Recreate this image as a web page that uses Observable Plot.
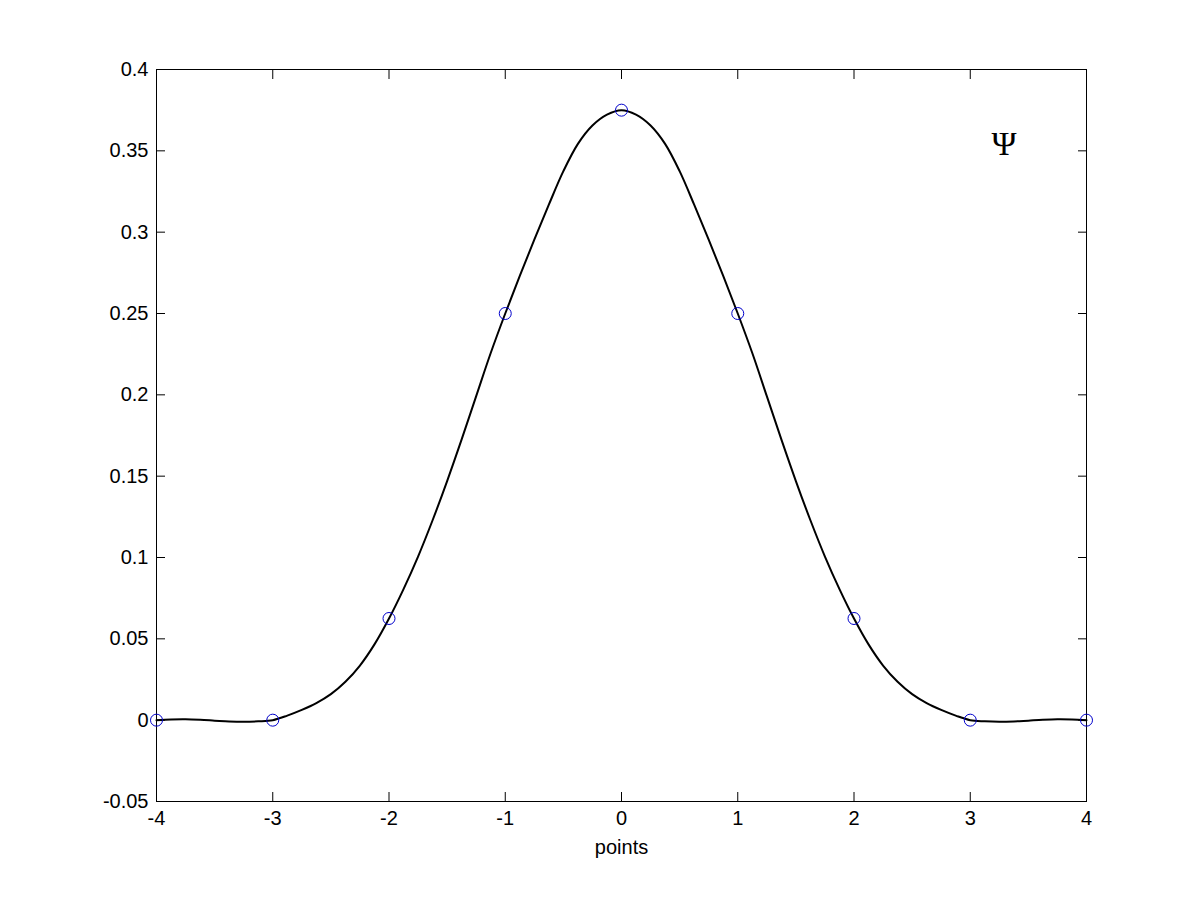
<!DOCTYPE html>
<html>
<head>
<meta charset="utf-8">
<script src="https://cdn.jsdelivr.net/npm/d3@7"></script>
<script src="https://cdn.jsdelivr.net/npm/@observablehq/plot@0.6"></script>
<style>
  html, body { margin: 0; padding: 0; background: #fff; }
  #chart { width: 1200px; height: 900px; }
</style>
</head>
<body>
<div id="chart"></div>
<script>
// Sample points (circles)
const pointX = [-4, -3, -2, -1, 0, 1, 2, 3, 4];
const pointY = [0, 0, 0.0625, 0.25, 0.375, 0.25, 0.0625, 0, 0];

// Curve samples (step 0.125)
const curveX = [
  -4, -3.875, -3.75, -3.625, -3.5, -3.375, -3.25, -3.125,
  -3, -2.875, -2.75, -2.625, -2.5, -2.375, -2.25, -2.125,
  -2, -1.875, -1.75, -1.625, -1.5, -1.375, -1.25, -1.125,
  -1, -0.875, -0.75, -0.625, -0.5, -0.375, -0.25, -0.125,
  0, 0.125, 0.25, 0.375, 0.5, 0.625, 0.75, 0.875,
  1, 1.125, 1.25, 1.375, 1.5, 1.625, 1.75, 1.875,
  2, 2.125, 2.25, 2.375, 2.5, 2.625, 2.75, 2.875,
  3, 3.125, 3.25, 3.375, 3.5, 3.625, 3.75, 3.875, 4
];
const curveY = [
  0, 0.0004, 0.0005, 0.0002, -0.0003, -0.0008, -0.0010, -0.0007,
  0, 0.0028, 0.0063, 0.0105, 0.0160, 0.0236, 0.0336, 0.0466,
  0.0625, 0.0806, 0.1006, 0.1229, 0.1470, 0.1726, 0.1992, 0.2257,
  0.25, 0.2731, 0.2954, 0.3169, 0.3375, 0.3543, 0.3656, 0.3723,
  0.375, 0.3723, 0.3656, 0.3543, 0.3375, 0.3169, 0.2954, 0.2731,
  0.25, 0.2257, 0.1992, 0.1726, 0.1470, 0.1229, 0.1006, 0.0806,
  0.0625, 0.0466, 0.0336, 0.0236, 0.0160, 0.0105, 0.0063, 0.0028,
  0, -0.0007, -0.0010, -0.0008, -0.0003, 0.0002, 0.0005, 0.0004, 0
];

const xTicks = [-4, -3, -2, -1, 0, 1, 2, 3, 4];
const yTicks = [-0.05, 0, 0.05, 0.1, 0.15, 0.2, 0.25, 0.3, 0.35, 0.4];
const yTickLabels = ["-0.05", "0", "0.05", "0.1", "0.15", "0.2", "0.25", "0.3", "0.35", "0.4"];

const annotation = [{x: 3.29, y: 0.354, text: "\u03A8"}];

const points = pointX.map((x, i) => ({x, y: pointY[i]}));
const curve = curveX.map((x, i) => ({x, y: curveY[i]}));

const chart = Plot.plot({
  width: 1200,
  height: 900,
  marginLeft: 156,
  marginRight: 114,
  marginTop: 69,
  marginBottom: 99,
  style: {fontFamily: "'Liberation Sans', Arial, sans-serif", fontSize: "20px", color: "#000", background: "#fff"},
  x: {domain: [-4, 4]},
  y: {domain: [-0.05, 0.4]},
  marks: [
    Plot.frame({stroke: "#000", strokeWidth: 1}),
    Plot.axisX({anchor: "bottom", ticks: xTicks, tickSize: -9, tickPadding: 18, tickFormat: d => String(d),
                label: "points", labelAnchor: "center", labelArrow: "none", labelOffset: 52}),
    Plot.axisX({anchor: "top", ticks: xTicks, tickSize: -9, tickFormat: () => "", label: null}),
    Plot.axisY({anchor: "left", ticks: yTicks, tickSize: -9, tickPadding: 17,
                tickFormat: d => yTickLabels[yTicks.findIndex(t => Math.abs(t - d) < 1e-9)], label: null}),
    Plot.axisY({anchor: "right", ticks: yTicks, tickSize: -9, tickFormat: () => "", label: null}),
    Plot.line(curve, {x: "x", y: "y", stroke: "#000", strokeWidth: 2, curve: "catmull-rom"}),
    Plot.dot(points, {x: "x", y: "y", r: 6, stroke: "#0000cc", strokeWidth: 1, fill: "none"}),
    Plot.text(annotation, {x: "x", y: "y", text: "text", fontFamily: "'Liberation Serif', 'Times New Roman', serif", fontSize: 34})
  ]
});
document.getElementById("chart").appendChild(chart);
</script>
</body>
</html>
